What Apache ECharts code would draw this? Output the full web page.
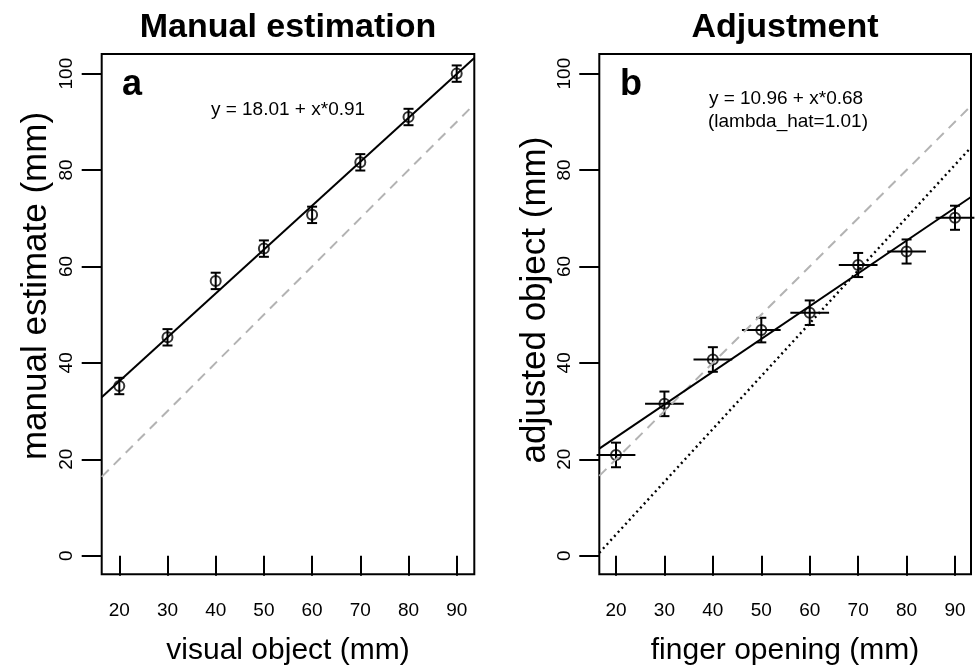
<!DOCTYPE html>
<html style="height: 100%">
<head>
<meta charset="utf-8">
<script src="https://cdn.jsdelivr.net/npm/echarts@6.0.0/dist/echarts.min.js"></script>
</head>
<body style="height: 100%; margin: 0; background: #fff">
<div id="chart" style="width: 975px; height: 670px;"></div>
<script type="text/javascript">
// data
var xVals = [20, 30, 40, 50, 60, 70, 80, 90];
var xTicks = [20, 30, 40, 50, 60, 70, 80, 90];
var yTicks = [0, 20, 40, 60, 80, 100];

// panel a: manual estimation
var estA = [35.2, 45.3, 57.0, 63.7, 70.7, 81.6, 91.0, 100.0];
var errA = [1.7, 1.7, 1.7, 1.7, 1.7, 1.7, 1.7, 1.7];
var fitA = [[16.35, 32.89], [93.65, 103.23]];
var idA = [[16.35, 16.35], [93.65, 93.65]];

// panel b: adjustment
var adjB = [20.9, 31.5, 40.7, 46.8, 50.4, 60.3, 63.1, 70.1];
var errB = [2.55, 2.55, 2.55, 2.55, 2.55, 2.5, 2.5, 2.5];
var xErrB = [4, 4, 4, 4, 4, 4, 4, 4];
var fitB = [[16.55, 22.21], [93.3, 74.40]];
var idB = [[16.55, 16.55], [93.3, 93.3]];
var dotB = [[16.55, 0.6], [93.3, 84.7]];

var FONT = "'Liberation Sans', Arial, Helvetica, sans-serif";

function pts(xs, ys, es, hs) {
    var out = [];
    for (var i = 0; i < xs.length; i++) {
        out.push([xs[i], ys[i], es[i], hs ? hs[i] : 0]);
    }
    return out;
}

// error bars: vertical with caps, horizontal (panel b) without
function errRender(params, api) {
    var x = api.value(0), y = api.value(1), e = api.value(2), h = api.value(3);
    var top = api.coord([x, y + e]);
    var bot = api.coord([x, y - e]);
    var st = {stroke: '#000', lineWidth: 2};
    var kids = [
        {type: 'line', shape: {x1: top[0], y1: top[1], x2: bot[0], y2: bot[1]}, style: st},
        {type: 'line', shape: {x1: top[0] - 5, y1: top[1], x2: top[0] + 5, y2: top[1]}, style: st},
        {type: 'line', shape: {x1: bot[0] - 5, y1: bot[1], x2: bot[0] + 5, y2: bot[1]}, style: st}
    ];
    if (h > 0) {
        var l = api.coord([x - h, y]);
        var r = api.coord([x + h, y]);
        kids.push({type: 'line', shape: {x1: l[0], y1: l[1], x2: r[0], y2: r[1]}, style: st});
    }
    return {type: 'group', children: kids};
}

function xAxisOf(idx, lo, hi) {
    return {
        type: 'value', gridIndex: idx, min: lo, max: hi,
        axisLine: {show: false},
        splitLine: {show: false},
        axisTick: {show: true, length: 20, customValues: xTicks, lineStyle: {color: '#000', width: 2}},
        axisLabel: {customValues: xTicks, margin: 27, color: '#000', fontSize: 19, fontFamily: FONT}
    };
}
function yAxisOf(idx) {
    return {
        type: 'value', gridIndex: idx, min: -3.86, max: 104.07,
        axisLine: {show: false},
        splitLine: {show: false},
        axisTick: {show: true, length: 20, customValues: yTicks, lineStyle: {color: '#000', width: 2}},
        axisLabel: {customValues: yTicks, rotate: 90, margin: 25, color: '#000', fontSize: 19, fontFamily: FONT}
    };
}
function lineSeries(idx, data, color, type, w) {
    return {
        type: 'line', xAxisIndex: idx, yAxisIndex: idx, data: data,
        showSymbol: false, silent: true, animation: false,
        lineStyle: {color: color, width: w || 2, type: type}
    };
}
function txt(s, x, y, size, weight, rot) {
    return {
        type: 'text', x: x, y: y, rotation: rot || 0, silent: true,
        style: {text: s, fill: '#000', fontSize: size, fontWeight: weight || 'normal', fontFamily: FONT,
                align: 'center', verticalAlign: 'middle'}
    };
}

var dom = document.getElementById("chart");
var myChart = echarts.init(dom);
option = null;
option = {
    backgroundColor: '#fff',
    animation: false,
    grid: [
        {left: 101.7, top: 54, width: 372.6, height: 520.3, show: true, borderColor: '#000', borderWidth: 2, backgroundColor: 'transparent'},
        {left: 599.3, top: 54, width: 371.7, height: 520.3, show: true, borderColor: '#000', borderWidth: 2, backgroundColor: 'transparent'}
    ],
    xAxis: [xAxisOf(0, 16.35, 93.65), xAxisOf(1, 16.55, 93.3)],
    yAxis: [yAxisOf(0), yAxisOf(1)],
    series: [
        lineSeries(0, idA, '#b3b3b3', [10, 7]),
        lineSeries(0, fitA, '#000', 'solid'),
        {
            type: 'custom', xAxisIndex: 0, yAxisIndex: 0, renderItem: errRender,
            data: pts(xVals, estA, errA), clip: false, silent: true
        },
        {
            type: 'scatter', xAxisIndex: 0, yAxisIndex: 0, symbol: 'circle', symbolSize: 10,
            data: pts(xVals, estA, errA), silent: true,
            itemStyle: {color: 'transparent', borderColor: '#000', borderWidth: 2}
        },
        lineSeries(1, idB, '#b3b3b3', [10, 7]),
        lineSeries(1, dotB, '#000', [2, 3.5], 2.4),
        lineSeries(1, fitB, '#000', 'solid'),
        {
            type: 'custom', xAxisIndex: 1, yAxisIndex: 1, renderItem: errRender,
            data: pts(xVals, adjB, errB, xErrB), clip: false, silent: true
        },
        {
            type: 'scatter', xAxisIndex: 1, yAxisIndex: 1, symbol: 'circle', symbolSize: 10,
            data: pts(xVals, adjB, errB, xErrB), silent: true,
            itemStyle: {color: 'transparent', borderColor: '#000', borderWidth: 2}
        }
    ],
    graphic: [
        txt('Manual estimation', 288, 28, 34, 'bold'),
        txt('Adjustment', 785, 28, 34, 'bold'),
        txt('a', 132, 85, 36, 'bold'),
        txt('b', 631, 85, 36, 'bold'),
        txt('y = 18.01 + x*0.91', 288, 110, 19),
        txt('y = 10.96 + x*0.68', 786, 99, 19),
        txt('(lambda_hat=1.01)', 788, 122, 19),
        txt('visual object (mm)', 288, 651, 30),
        txt('finger opening (mm)', 785, 651, 30),
        txt('manual estimate (mm)', 36, 286, 35, 'normal', Math.PI / 2),
        txt('adjusted object (mm)', 535, 300, 35, 'normal', Math.PI / 2)
    ]
};
if (option && typeof option === "object") {
    myChart.setOption(option, true);
}
</script>
</body>
</html>
